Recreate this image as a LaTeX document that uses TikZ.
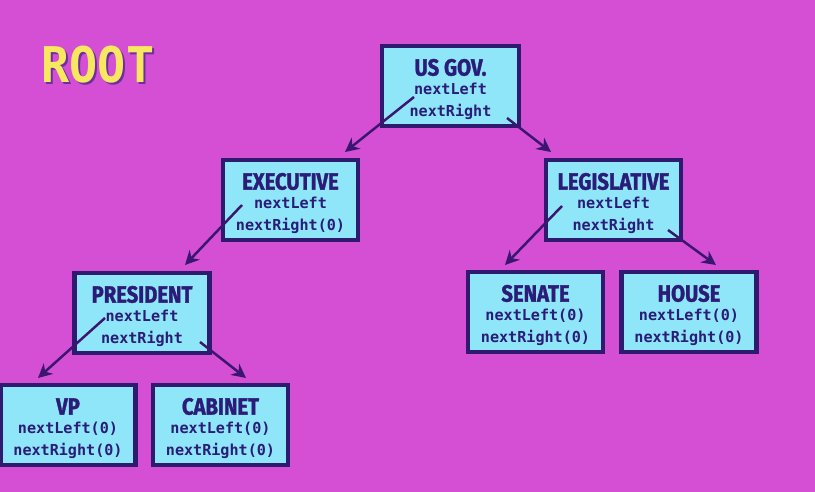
\documentclass[tikz,border=0pt]{standalone}
\usepackage{fontspec}
\usetikzlibrary{arrows.meta}
\newfontfamily\titlefont{Fira Sans}[FakeStretch=0.86,FakeBold=1.4]
\newfontfamily\monofont{DejaVu Sans Mono}
\newfontfamily\rootfont{DejaVu Sans Mono}[FakeStretch=0.95]
\definecolor{bgmag}{HTML}{D44FD4}
\definecolor{boxfill}{HTML}{8EE6F8}
\definecolor{boxline}{HTML}{2E1A6E}
\definecolor{txt}{HTML}{2A1C78}
\definecolor{arr}{HTML}{3A1670}
\definecolor{rootyel}{HTML}{F8E860}
\definecolor{rootsh}{HTML}{6A2FA0}
\tikzset{
  box/.style={draw=boxline, line width=2.3pt, fill=boxfill, minimum width=2.7cm,
    minimum height=1.6cm, inner sep=0pt, align=center, text=txt,
    font=\monofont\bfseries\fontsize{8.6}{12.5}\selectfont},
  link/.style={draw=arr, line width=1.4pt, -{Stealth[length=8pt,width=8pt]}},
}
\newcommand{\ttl}[1]{\rule{0pt}{13.5pt}{\titlefont\bfseries\fontsize{13.4}{14}\selectfont #1}\\[-1.5pt]}
\begin{document}
\begin{tikzpicture}[x=0.02cm,y=-0.02cm]
\fill[bgmag] (0,0) rectangle (815,492);
\useasboundingbox (0,0) rectangle (815,492);

\node[text=rootsh, font=\rootfont\bfseries\fontsize{28}{30}\selectfont] (rootsh) at (100,67) {ROOT};
\node[text=rootyel, font=\rootfont\bfseries\fontsize{28}{30}\selectfont] (root) at (98,65) {ROOT};

\node[box, minimum width=2.74cm] (gov) at (450.5,86) {\ttl{US GOV.}nextLeft\\nextRight};
\node[box] (exec) at (290.5,200) {\ttl{EXECUTIVE}nextLeft\\nextRight(0)};
\node[box] (leg) at (613.5,200) {\ttl{LEGISLATIVE}nextLeft\\nextRight};
\node[box] (pres) at (142,313) {\ttl{PRESIDENT}nextLeft\\nextRight};
\node[box] (sen) at (535.5,312) {\ttl{SENATE}nextLeft(0)\\nextRight(0)};
\node[box] (house) at (689,312) {\ttl{HOUSE}nextLeft(0)\\nextRight(0)};
\node[box] (vp) at (68,425) {\ttl{VP}nextLeft(0)\\nextRight(0)};
\node[box] (cab) at (220.5,425) {\ttl{CABINET}nextLeft(0)\\nextRight(0)};

\coordinate (govL) at (414,97);   \coordinate (execT) at (345,152);
\coordinate (govR) at (507,118);  \coordinate (legT) at (551,152);
\coordinate (execL) at (242,205); \coordinate (presT) at (185,265);
\coordinate (legL) at (562,206);  \coordinate (senT) at (505,265);
\coordinate (legR) at (668,230);  \coordinate (houseT) at (716,265);
\coordinate (presL) at (105,318); \coordinate (vpT) at (38,378);
\coordinate (presR) at (200,342); \coordinate (cabT) at (246,378);

\draw[link] (govL) -- (execT);
\draw[link] (govR) -- (legT);
\draw[link] (execL) -- (presT);
\draw[link] (legL) -- (senT);
\draw[link] (legR) -- (houseT);
\draw[link] (presL) -- (vpT);
\draw[link] (presR) -- (cabT);
\end{tikzpicture}
\end{document}
